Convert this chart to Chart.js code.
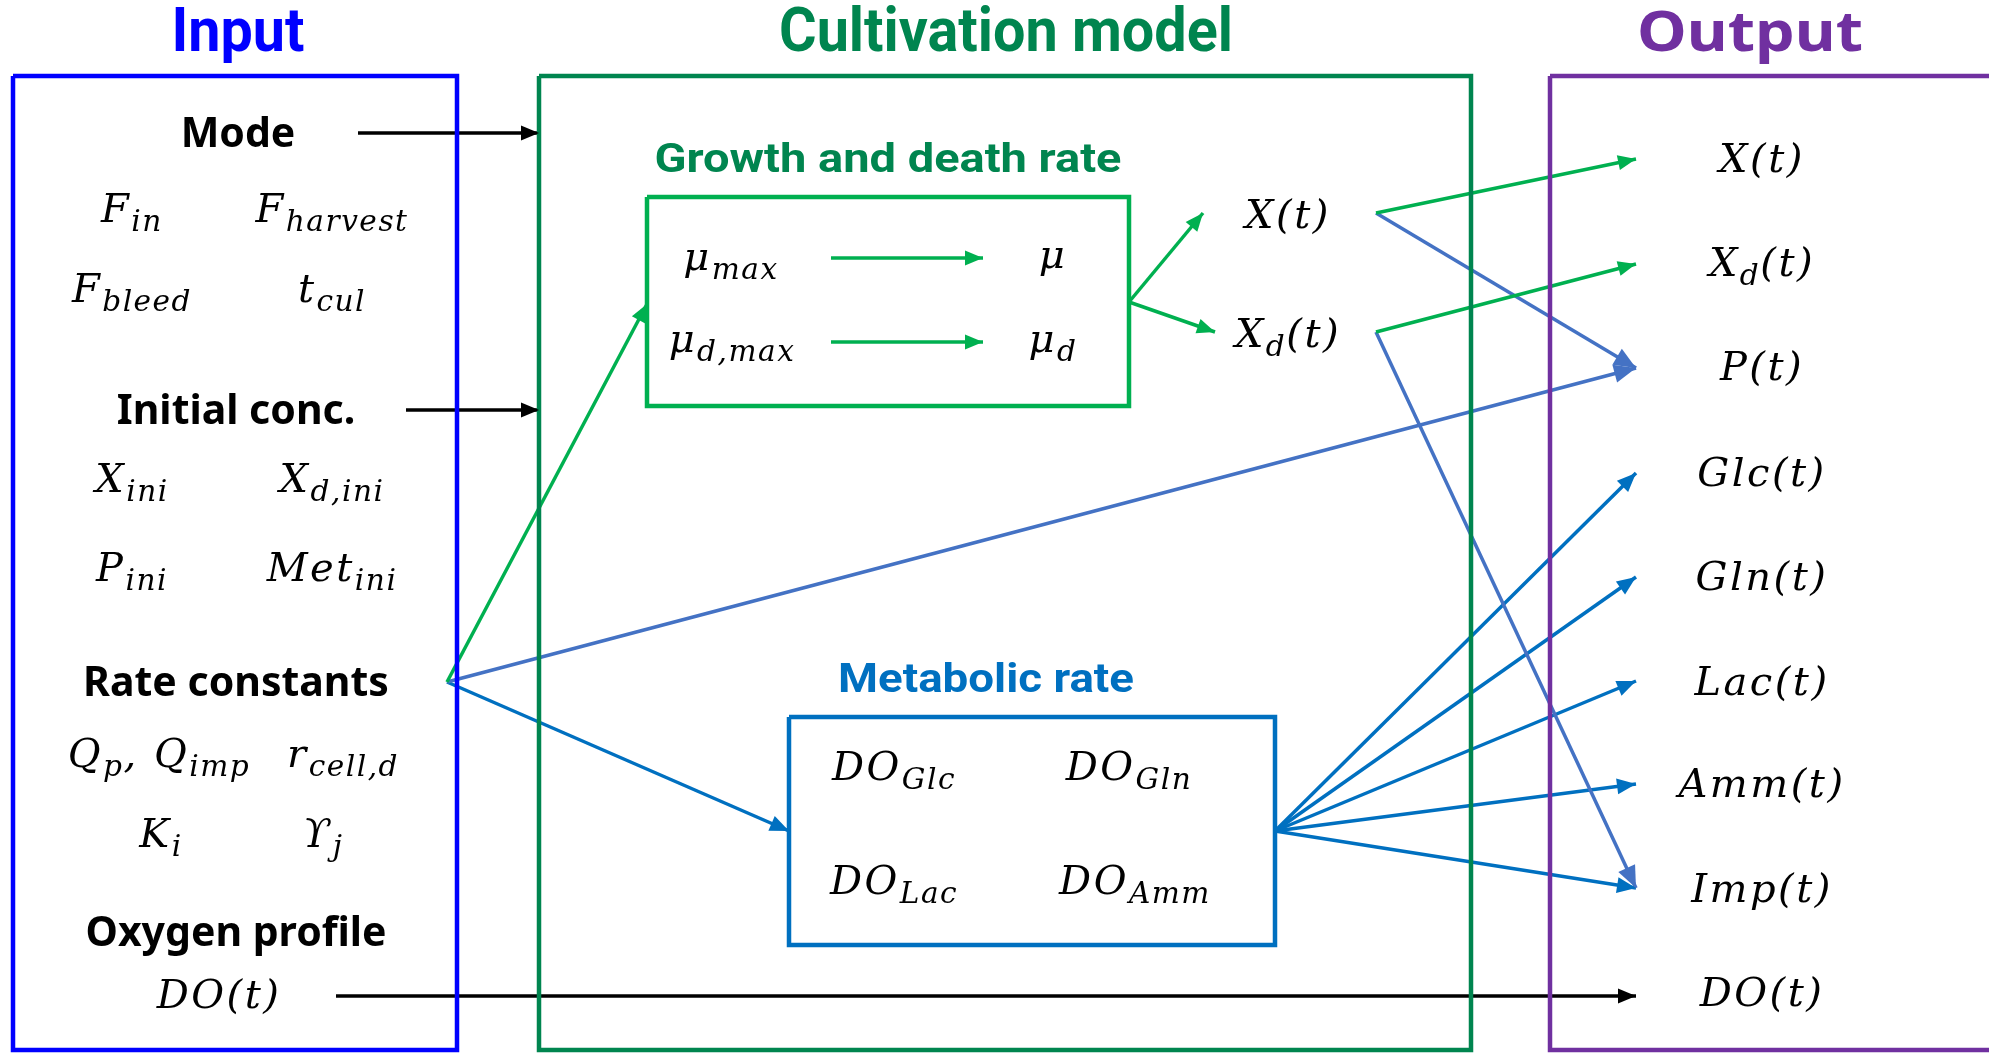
<!DOCTYPE html>
<html>
<head>
<meta charset="utf-8">
<script src="https://cdn.jsdelivr.net/npm/chart.js@4.4.1/dist/chart.umd.min.js"></script>
<style>
  html, body { margin: 0; padding: 0; background: #fff; overflow: hidden; }
  canvas { display: block; }
</style>
</head>
<body>
<canvas id="diagram" width="1989" height="1054"></canvas>
<script>
// ---- diagram content (coordinates in a 1989 x 1054 frame, y downwards) ----
const sectionTitles = ['Input', 'Cultivation model', 'Output'];
const sectionTitleX = [238, 1006, 1750];

const inputHeadings = ['Mode', 'Initial conc.', 'Rate constants', 'Oxygen profile'];
const inputHeadingX = [238, 236, 236, 236];
const inputHeadingY = [135, 412, 684, 934];

const inputSymbols = ['F_{in}', 'F_{harvest}', 'F_{bleed}', 't_{cul}',
  'X_{ini}', 'X_{d,ini}', 'P_{ini}', 'Met_{ini}',
  'Q_{p}, Q_{imp}', 'r_{cell,d}', 'K_{i}', 'ϒ_{j}', 'DO(t)'];
const inputSymbolX = [132, 332, 132, 332, 132, 332, 132, 332, 159, 343, 161, 323, 219];
const inputSymbolY = [212, 212, 292, 292, 482, 482, 571, 571, 757, 757, 837, 837, 998];

const growthSymbols = ['μ_{max}', 'μ', 'μ_{d,max}', 'μ_{d}', 'X(t)', 'X_{d}(t)'];
const growthSymbolX = [731, 1053, 732, 1053, 1288, 1288];
const growthSymbolY = [260, 258, 342, 342, 218, 337];

const metabolicSymbols = ['DO_{Glc}', 'DO_{Gln}', 'DO_{Lac}', 'DO_{Amm}'];
const metabolicSymbolX = [894, 1129, 894, 1135];
const metabolicSymbolY = [770, 770, 884, 884];

const outputLabels = ['X(t)', 'X_{d}(t)', 'P(t)', 'Glc(t)', 'Gln(t)', 'Lac(t)', 'Amm(t)', 'Imp(t)', 'DO(t)'];
const outputX = 1762;
const outputY = [162, 266, 370, 476, 580, 685, 787, 892, 996];

// boxes: [left, top, right, bottom]
const inputBox = [13, 76, 457, 1050];
const modelBox = [539, 76, 1471, 1050];
const outputBox = [1550, 76, 2010, 1050];
const growthBox = [647, 197, 1129, 406];
const metabolicBox = [789, 717, 1275, 945];

// arrows: [x1, y1, x2, y2]
const blackArrows = [[358, 133, 539, 133], [406, 410, 539, 410], [336, 996, 1636, 996]];
const greenArrows = [[447, 682, 647, 304], [831, 258, 983, 258], [831, 342, 983, 342],
  [1129, 302, 1203, 213], [1129, 302, 1215, 332],
  [1376, 213, 1636, 159], [1376, 332, 1636, 264]];
const productArrows = [[447, 682, 1636, 368], [1376, 213, 1636, 368], [1376, 332, 1636, 888]];
const metabolicArrows = [[447, 682, 789, 831], [1275, 831, 1636, 473], [1275, 831, 1636, 577],
  [1275, 831, 1636, 681], [1275, 831, 1636, 784], [1275, 831, 1636, 888]];

// ---- colours ----
const C = {
  input: '#0000FF', model: '#00854F', growth: '#00B050',
  meta: '#0070C0', product: '#4472C4', output: '#7030A0', black: '#000000'
};

function boxDataset(b, color) {
  return {
    data: [{x: b[0], y: b[1]}, {x: b[2], y: b[1]}, {x: b[2], y: b[3]}, {x: b[0], y: b[3]}, {x: b[0], y: b[1]}],
    showLine: true, borderColor: color, borderWidth: 4.5, pointRadius: 0,
    borderJoinStyle: 'miter', fill: false
  };
}
function arrowDataset(a, color, width, head) {
  return {
    data: [{x: a[0], y: a[1]}, {x: a[2], y: a[3]}],
    showLine: true, borderColor: color, borderWidth: width, pointRadius: 0,
    fill: false, arrowHead: head
  };
}

const datasets = [
  boxDataset(inputBox, C.input),
  boxDataset(modelBox, C.model),
  boxDataset(outputBox, C.output),
  boxDataset(growthBox, C.growth),
  boxDataset(metabolicBox, C.meta)
];
blackArrows.forEach(a => datasets.push(arrowDataset(a, C.black, 3.5, 18)));
greenArrows.forEach(a => datasets.push(arrowDataset(a, C.growth, 3.5, 18)));
productArrows.forEach(a => datasets.push(arrowDataset(a, C.product, 3.5, 22)));
metabolicArrows.forEach(a => datasets.push(arrowDataset(a, C.meta, 3.5, 19)));

// ---- text helpers ----
const MATH_FONT = '"DejaVu Serif", serif';
const SANS = '"Noto Sans", "Open Sans", sans-serif';
const COND = 'Roboto, "Liberation Sans", sans-serif';

function parseRich(s) {
  const parts = [];
  const re = /_\{([^}]*)\}/g;
  let last = 0, m;
  while ((m = re.exec(s)) !== null) {
    if (m.index > last) parts.push({t: s.slice(last, m.index), sub: false});
    parts.push({t: m[1], sub: true});
    last = re.lastIndex;
  }
  if (last < s.length) parts.push({t: s.slice(last), sub: false});
  return parts;
}

function drawMath(ctx, s, x, y, size) {
  const parts = parseRich(s);
  const subSize = size * 0.74;
  ctx.save();
  ctx.textBaseline = 'middle';
  ctx.textAlign = 'left';
  ctx.fillStyle = '#000';
  let total = 0;
  parts.forEach(p => {
    ctx.font = 'italic ' + (p.sub ? subSize : size) + 'px ' + MATH_FONT;
    ctx.letterSpacing = (p.sub ? 1.5 : 2.5) + 'px';
    p.w = ctx.measureText(p.t).width;
    total += p.w;
  });
  let cx = x - total / 2;
  parts.forEach(p => {
    ctx.font = 'italic ' + (p.sub ? subSize : size) + 'px ' + MATH_FONT;
    ctx.letterSpacing = (p.sub ? 1.5 : 2.5) + 'px';
    ctx.fillText(p.t, cx, p.sub ? y + size * 0.28 : y);
    cx += p.w;
  });
  ctx.restore();
}

function drawFit(ctx, text, x, y, font, color, width) {
  ctx.save();
  ctx.font = font;
  ctx.fillStyle = color;
  ctx.textBaseline = 'middle';
  ctx.textAlign = 'center';
  const w = ctx.measureText(text).width;
  ctx.translate(x, y);
  ctx.scale(width / w, 1);
  ctx.fillText(text, 0, 0);
  ctx.restore();
}

const arrowPlugin = {
  id: 'arrowHeads',
  afterDatasetsDraw(chart) {
    const ctx = chart.ctx;
    chart.data.datasets.forEach((ds, i) => {
      if (!ds.arrowHead) return;
      const pts = chart.getDatasetMeta(i).data;
      const p1 = pts[pts.length - 2], p2 = pts[pts.length - 1];
      const ang = Math.atan2(p2.y - p1.y, p2.x - p1.x);
      const L = ds.arrowHead, W = ds.arrowHead * 0.42;
      ctx.save();
      ctx.fillStyle = ds.borderColor;
      ctx.translate(p2.x, p2.y);
      ctx.rotate(ang);
      ctx.beginPath();
      ctx.moveTo(0, 0);
      ctx.lineTo(-L, -W);
      ctx.lineTo(-L, W);
      ctx.closePath();
      ctx.fill();
      ctx.restore();
    });
  }
};

const labelPlugin = {
  id: 'labels',
  afterDraw(chart) {
    const ctx = chart.ctx;
    const sx = v => chart.scales.x.getPixelForValue(v);
    const sy = v => chart.scales.y.getPixelForValue(v);

    const titleColors = [C.input, C.model, C.output];
    const titleWidths = [133, 454, 226];
    sectionTitles.forEach((t, i) => {
      drawFit(ctx, t, sx(sectionTitleX[i]), sy(35), 'bold ' + (i === 2 ? 56 : 62) + 'px ' + (i === 2 ? SANS : COND), titleColors[i], titleWidths[i]);
    });
    drawFit(ctx, 'Growth and death rate', sx(888), sy(162), 'bold 41px ' + COND, C.model, 467);
    drawFit(ctx, 'Metabolic rate', sx(986), sy(682), 'bold 41px ' + COND, C.meta, 296);

    inputHeadings.forEach((t, i) => {
      ctx.save();
      ctx.font = 'bold 41px ' + SANS;
      ctx.fillStyle = '#000';
      ctx.textAlign = 'center';
      ctx.textBaseline = 'middle';
      ctx.fillText(t, sx(inputHeadingX[i]), sy(inputHeadingY[i]));
      ctx.restore();
    });

    inputSymbols.forEach((t, i) => drawMath(ctx, t, sx(inputSymbolX[i]), sy(inputSymbolY[i]), 40));
    growthSymbols.forEach((t, i) => drawMath(ctx, t, sx(growthSymbolX[i]), sy(growthSymbolY[i]), 40));
    metabolicSymbols.forEach((t, i) => drawMath(ctx, t, sx(metabolicSymbolX[i]), sy(metabolicSymbolY[i]), 40));
    outputLabels.forEach((t, i) => drawMath(ctx, t, sx(outputX), sy(outputY[i]), 40));
  }
};

new Chart(document.getElementById('diagram').getContext('2d'), {
  type: 'scatter',
  data: { datasets: datasets },
  options: {
    responsive: false,
    animation: false,
    events: [],
    layout: { padding: 0 },
    plugins: { legend: { display: false }, tooltip: { enabled: false } },
    scales: {
      x: { type: 'linear', min: 0, max: 1989, display: false },
      y: { type: 'linear', min: 0, max: 1054, reverse: true, display: false }
    }
  },
  plugins: [arrowPlugin, labelPlugin]
});
</script>
</body>
</html>
